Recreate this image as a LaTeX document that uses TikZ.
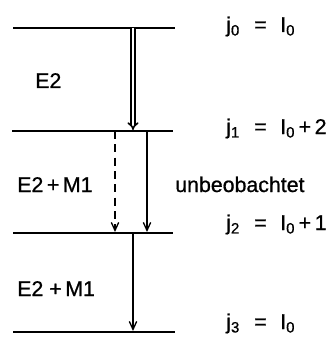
\documentclass[tikz,border=0pt]{standalone}
\usepackage{fontspec}
\setmainfont{Liberation Sans}[FakeBold=0.8]
\usetikzlibrary{arrows.meta}

\newcommand{\spinlbl}[2]{\makebox[21pt][l]{j\textsubscript{#1}}\makebox[19.5pt][l]{=}#2}

\tikzset{
  level/.style={line width=2pt},
  trans/.style={line width=1pt, -{Straight Barb[length=6pt,width=5.5pt]}},
  lbl/.style={anchor=base west, inner sep=0pt, font=\fontsize{16}{19}\selectfont}
}

\begin{document}
\begin{tikzpicture}[x=0.75pt,y=-0.75pt]
\useasboundingbox (0,0) rectangle (332,342);

%levels
\draw [level] (13,28) -- (175,28);
\draw [level] (12,131) -- (173,131);
\draw [level] (13,233) -- (173,233);
\draw [level] (13,332) -- (175,332);

% arrow end points on the levels
\coordinate (a0) at (133,28);
\coordinate (a1) at (133,130);
\coordinate (b0) at (115,131);
\coordinate (b1) at (115,232);
\coordinate (c0) at (147,131);
\coordinate (c1) at (147,232);
\coordinate (d0) at (133,233);
\coordinate (d1) at (133,331);

% transitions
\draw [line width=1.2pt, double distance=1.5pt, -{Implies[length=5pt]}] (a0) -- (a1);
\draw [trans, dashed, dash pattern=on 6pt off 4pt] (b0) -- (b1);
\draw [trans] (c0) -- (c1);
\draw [trans] (d0) -- (d1);

% multipolarities
\node [lbl] (e2) at (35,88) {E2};
\node [lbl] (e2m1a) at (17,192) {E2\,+\,M1};
\node [lbl] (unb) at (175,192) {unbeobachtet};
\node [lbl] (e2m1b) at (17,296) {E2 +\,M1};

% spins
\node [lbl] (j0) at (226,32) {\spinlbl{0}{I\textsubscript{0}}};
\node [lbl] (j1) at (226,134) {\spinlbl{1}{I\textsubscript{0}\,+\,2}};
\node [lbl] (j2) at (226,230) {\spinlbl{2}{I\textsubscript{0}\,+\,1}};
\node [lbl] (j3) at (226,329) {\spinlbl{3}{I\textsubscript{0}}};
\end{tikzpicture}
\end{document}
